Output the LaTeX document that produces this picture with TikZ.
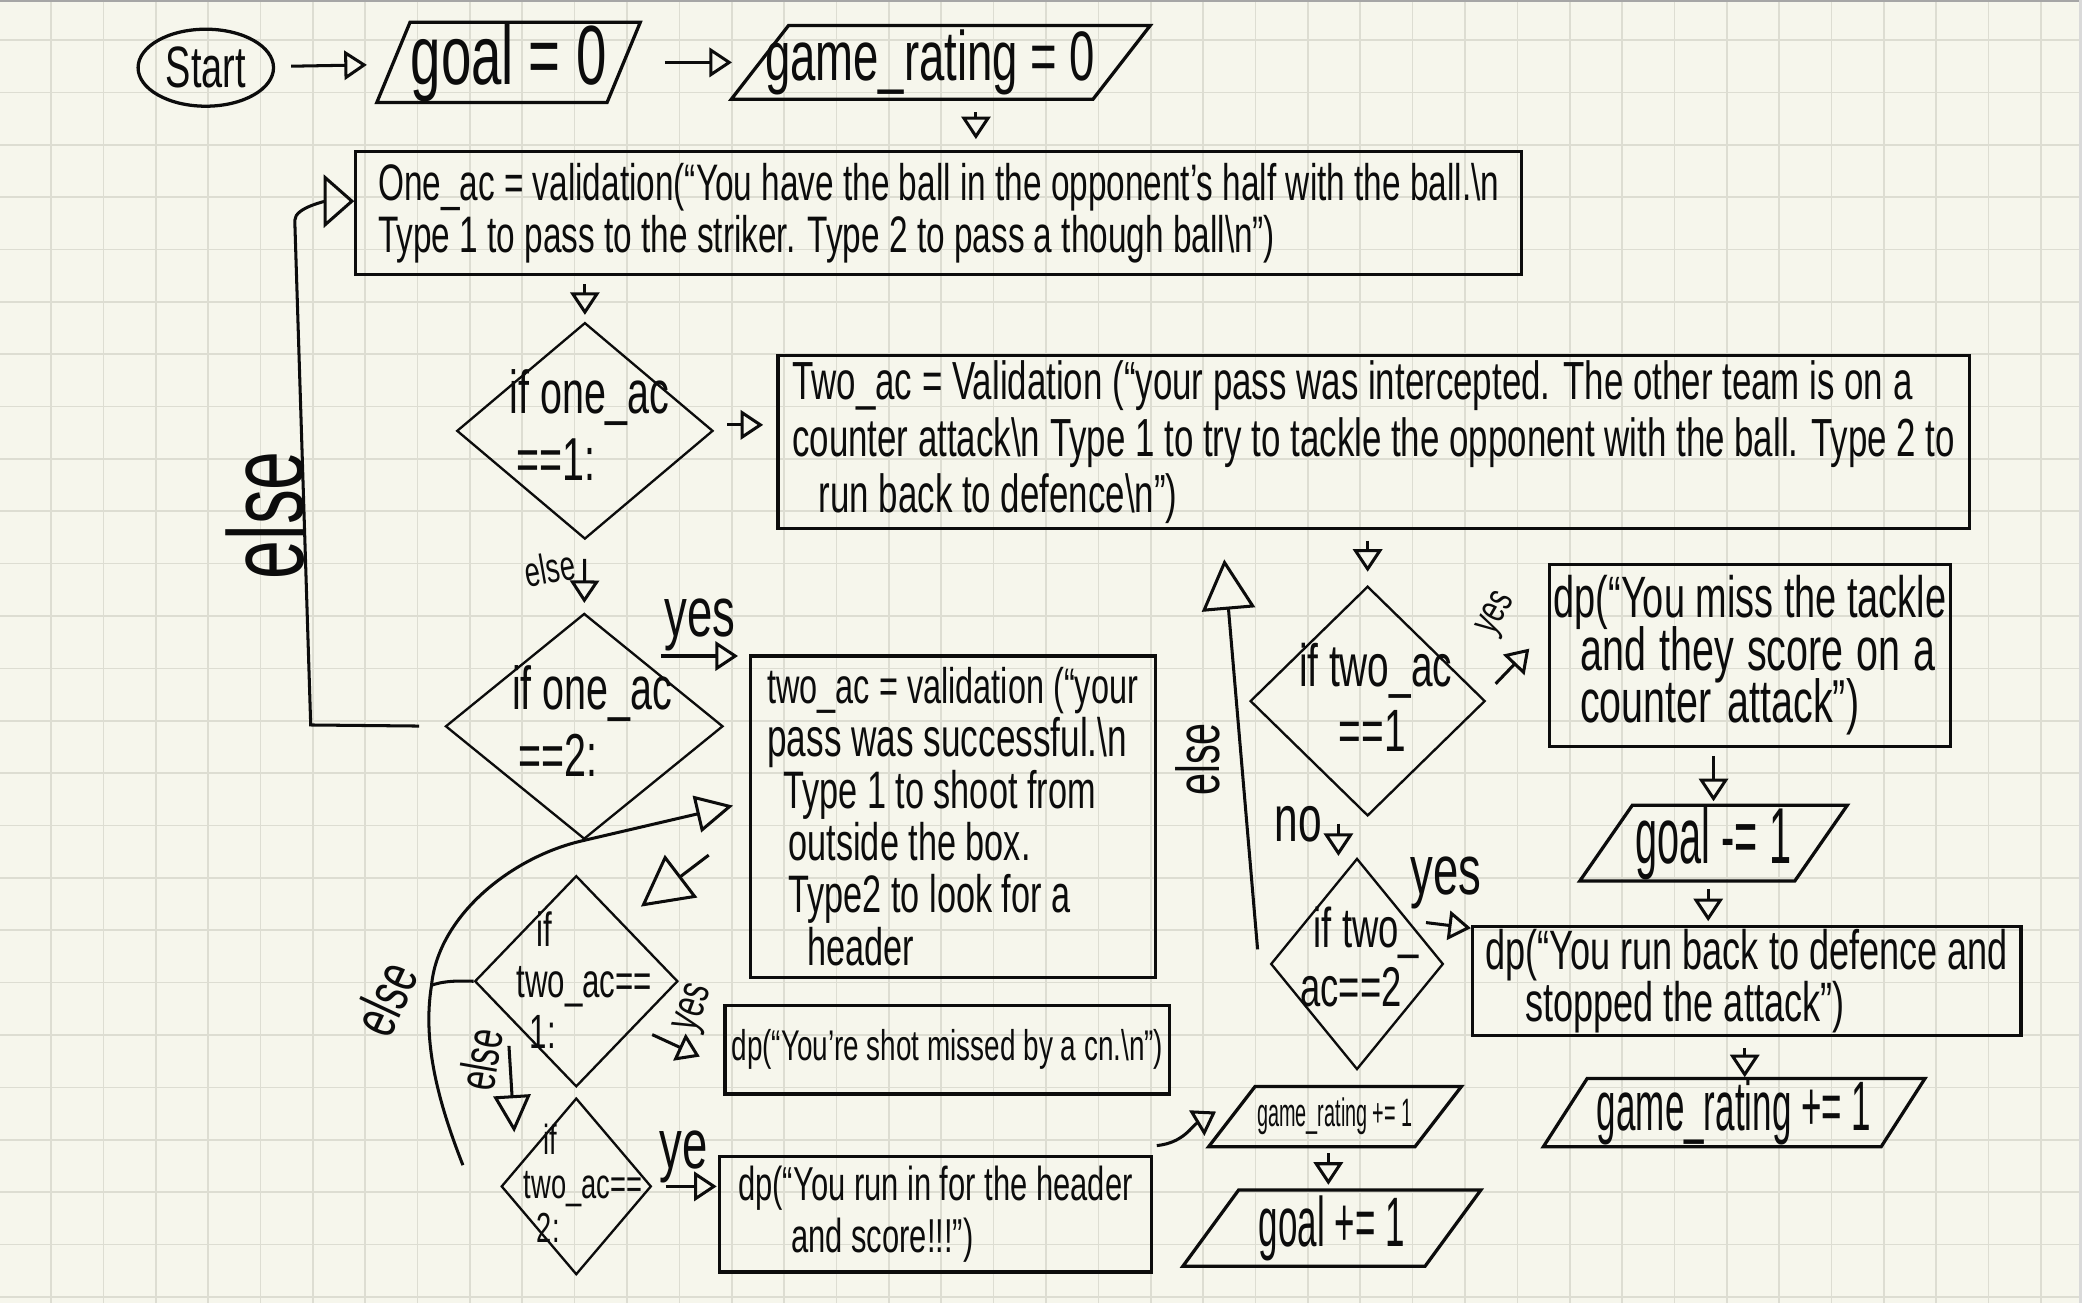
\documentclass[tikz,border=0pt]{standalone}
\usepackage{fontspec}
\setmainfont{Liberation Sans}[FakeStretch=0.65]
\newfontfamily\cond{Liberation Sans}[FakeStretch=0.5]
\usetikzlibrary{arrows.meta,shapes.geometric}
\definecolor{paper}{RGB}{246,246,236}
\definecolor{gridc}{RGB}{221,221,210}
\definecolor{ink}{RGB}{12,12,12}
\newcommand\fsz[2]{\fontsize{#1}{#2}\selectfont\lineskiplimit=-3pt\lineskip=0pt\relax}
\newcommand\paral[2]{\draw[ln] ([xshift=#2]#1.north west) -- ([xshift=#2]#1.north east) -- ([xshift=-#2]#1.south east) -- ([xshift=-#2]#1.south west) -- cycle;}
\begin{document}
\begin{tikzpicture}[x=0.1mm,y=-0.1mm,
  ln/.style={draw=ink,line width=0.7pt},
  box/.style={ln,rectangle,inner sep=0pt,align=left,text=ink},
  dia/.style={draw=ink,line width=0.5pt,diamond,inner sep=0pt},
  pa/.style={inner sep=0pt,align=center,text=ink},
  txt/.style={inner sep=0pt,align=left,text=ink},
  lab/.style={inner sep=0pt,text=ink},
  con/.style={draw=ink,line width=0.65pt},
  arr/.style={con,-{Triangle[open,length=1.7mm,width=2.2mm,line width=0.65pt]}},
  midarr/.style={con,-{Triangle[open,length=2.8mm,width=2.8mm,line width=0.65pt]}},
  bigarr/.style={con,-{Triangle[open,length=3.8mm,width=4mm,line width=0.65pt]}},
  loparr/.style={con,-{Triangle[open,length=2.3mm,width=4mm,line width=0.65pt]}},
]
\useasboundingbox (0,0) rectangle (1568,981);
\fill[paper] (0,0) rectangle (1568,981);
\foreach \i in {0,...,38} \draw[gridc,line width=0.35pt] ({38.4+39.44*\i},0) -- ({38.4+39.44*\i},981);
\foreach \j in {0,...,24} \draw[gridc,line width=0.35pt] (0,{30.1+39.44*\j}) -- (1568,{30.1+39.44*\j});
\draw[gray!70,line width=0.4pt] (0,0.6) -- (1568,0.6);
\fill[gray!30] (1566,0) rectangle (1568,981);

% ---- top row
\node[ln,ellipse,minimum width=10.2mm,minimum height=5.8mm,inner sep=0pt,text=ink,font=\fsz{12.5}{12.5}] (start) at (155,51) {Start};
\node[pa,minimum width=17.2mm,minimum height=4.8mm,font=\fsz{18}{18}] (g0) at (383,47) {goal = 0};
\paral{g0}{1.25mm}
\node[pa,minimum width=27.1mm,minimum height=5.4mm,font=\fsz{15}{15}] (gr0) at (708.5,47) {game\_rating = 0\hspace*{1.6mm}};
\paral{gr0}{2.15mm}

% ---- boxes
\node[box,minimum width=87.8mm,minimum height=9.3mm,font=\fsz{11}{11.3}] (one) at (707,160.5) {One\_ac = validation(“You have the ball in the opponent's half with the ball.\textbackslash n\\Type 1 to pass to the striker. Type 2 to pass a though ball\textbackslash n”)};
\node[box,minimum width=89.7mm,minimum height=13mm,font=\fsz{11.5}{12.2}] (two) at (1034.5,333) {Two\_ac = Validation (“your pass was intercepted. The other team is on a\\counter attack\textbackslash n Type 1 to try to tackle the opponent with the ball. Type 2 to\\\hspace*{2mm}run back to defence\textbackslash n”)};
\node[box,minimum width=30.5mm,minimum height=24.2mm,font=\fsz{11.3}{11.2}] (ok) at (717.5,615) {\fsz{10.7}{11.2}two\_ac = validation (“your\\\fsz{11.6}{11.2}pass was successful.\textbackslash n\\\hspace*{1.2mm}Type 1 to shoot from\\\hspace*{1.6mm}outside the box.\\\hspace*{1.6mm}Type2 to look for a\\\hspace*{3mm}header};
\node[box,minimum width=33.5mm,minimum height=6.7mm,font=\fsz{9.2}{10}] (shot) at (713.5,790.5) {dp(“You're shot missed by a cn.\textbackslash n”)};
\node[box,minimum width=32.5mm,minimum height=8.7mm,font=\fsz{10.2}{11}] (runin) at (704.5,914.5) {dp(“You run in for the header\\\hspace*{4mm}and score!!!”)};
\node[box,minimum width=30.2mm,minimum height=13.7mm,font=\fsz{13}{11.2}] (miss) at (1318,493.5) {\fsz{12.5}{11.2}dp(“You miss the tackle\\\hspace*{2mm}and\hspace{1mm}they\hspace{1mm}score\hspace{1mm}on\hspace{1mm}a\\\hspace*{2mm}counter\hspace{1.2mm}attack”)};
\node[box,minimum width=41.3mm,minimum height=8.2mm,font=\fsz{11.9}{11.2}] (back) at (1315.5,739) {dp(“You run back to defence and\\\hspace*{3mm}stopped the attack”)};

% ---- diamonds
\node[dia,minimum width=19.3mm,minimum height=16.3mm] (d1) at (440.5,324.5) {};
\node[txt,font=\fsz{13}{14.5}] (d1t) at (444,320) {if one\_ac\\\hspace*{0.5mm}==1:};
\node[dia,minimum width=20.9mm,minimum height=17mm] (d2) at (440,547) {};
\node[txt,font=\fsz{13}{14.5}] (d2t) at (446,543) {if one\_ac\\\hspace*{0.5mm}==2:};
\node[dia,minimum width=15.3mm,minimum height=15.9mm] (d3) at (434,739) {};
\node[txt,font=\fsz{10.3}{11}] (d3t) at (440,738) {\hspace*{1.5mm}if\\two\_ac==\\\hspace*{1mm}1:};
\node[dia,minimum width=11.3mm,minimum height=13.3mm] (d4) at (434,893.5) {};
\node[txt,font=\fsz{9}{9.4}] (d4t) at (439,891) {\hspace*{1.5mm}if\\two\_ac==\\\hspace*{1mm}2:};
\node[dia,minimum width=17.7mm,minimum height=17.3mm] (d5) at (1030,528) {};
\node[txt,font=\fsz{12.8}{14}] (d5t) at (1036,525) {if two\_ac\\\hspace*{3mm}==1};
\node[dia,minimum width=13mm,minimum height=15.9mm] (d6) at (1022,726) {};
\node[txt,font=\fsz{12}{12.6}] (d6t) at (1024,721) {\hspace*{1mm}if two\_\\ac==2};

% ---- parallelograms bottom
\node[pa,minimum width=16.05mm,minimum height=5.2mm,font=\cond\fsz{17}{17}] (gm1) at (1290.5,635) {goal -= 1};
\paral{gm1}{1.98mm}
\node[pa,minimum width=25.3mm,minimum height=5mm,font=\cond\fsz{15}{15}] (gbig) at (1306,838) {game\_rating += 1};
\paral{gbig}{1.65mm}
\node[pa,minimum width=15.4mm,minimum height=4.4mm,font=\cond\fsz{8.5}{8.5}] (grs) at (1005.4,841) {game\_rating += 1};
\paral{grs}{1.75mm}
\node[pa,minimum width=18.1mm,minimum height=5.6mm,font=\cond\fsz{15}{15}] (gp1) at (1003,925) {goal += 1};
\paral{gp1}{2.1mm}

% ---- connectors
\draw[arr,shorten <=1.2mm,shorten >=2mm] (start) -- (g0);
\draw[arr,shorten <=3.1mm,shorten >=2.1mm] (g0) -- (gr0);
\draw[arr,shorten <=1mm,shorten >=0.8mm] ([xshift=2.65mm]gr0.south) -- ([xshift=2.65mm]gr0.south |- one.north);
\draw[arr,shorten <=0.6mm,shorten >=0.5mm] (d1.north |- one.south) -- (d1.north);
\draw[arr,shorten <=1mm,shorten >=1mm] ([yshift=0.45mm]d1.east) -- ([yshift=0.45mm]d1.east -| two.west);
\draw[arr,shorten <=1.4mm,shorten >=0.7mm] (d1.south) -- (d2.north);
\node[lab,rotate=10,font=\fsz{9}{9}] (le1) at (414,428) {else};

\draw[arr,shorten >=0.8mm] ([xshift=0.5mm,yshift=1mm]d2.north east) -- ([yshift=1mm]d2.north east -| ok.west);
\node[lab,font=\fsz{15}{15}] (ly1) at (527,471) {yes};

% left else loop
\coordinate (L1) at (234,546);
\coordinate (L2) at (222,166);
\draw[loparr,shorten <=1.9mm] (d2.west) -- (L1) -- (L2) .. controls +(0,-10) and +(-20,0) .. ([yshift=0.9mm]one.west);
\node[lab,rotate=90,font=\fsz{23}{23}] (le2) at (200,388) {else};

% big curve back into ok
\coordinate (cJ) at (325,742);
\draw[midarr,shorten >=1.2mm] ([xshift=-2.8mm,yshift=1.6mm]d4.west) .. controls (330,830) and (318,785) .. (cJ) .. controls (330,690) and (385,645) .. (d2.south) -- ([yshift=1.1mm]ok.west);
\draw[con] (d3.west) .. controls +(-10,0) and +(12,-4) .. (cJ);
\node[lab,rotate=65,font=\fsz{13}{13}] (le5) at (290,752) {else};

\draw[bigarr] ([xshift=-3mm,yshift=-2.9mm]ok.west) -- ([xshift=1mm,yshift=1.6mm]d3.north east);
\draw[midarr] ([xshift=-1.2mm,yshift=-0.85mm]d3.south west) -- ([xshift=-1.8mm,yshift=0.7mm]d4.north west);
\node[lab,rotate=80,font=\fsz{11}{11}] (le3) at (362,798) {else};
\draw[arr,shorten >=0.3mm] ([xshift=1.85mm]d3.south east) -- ([xshift=-1.5mm,yshift=-0.65mm]shot.west);
\node[lab,rotate=70,font=\fsz{10}{10}] (ly3) at (524,760) {yes};
\draw[arr,shorten <=1mm,shorten >=0.1mm] (d4.east) -- (d4.east -| runin.west);
\node[lab,font=\fsz{15}{15}] (ly4) at (515,871) {ye};

\draw[arr,shorten >=0.8mm] ([xshift=0.3mm,yshift=0.7mm]runin.north east) .. controls +(20,-2) and +(-25,15) .. ([xshift=-0.5mm,yshift=0.8mm]grs.west);
\draw[arr,shorten <=0.5mm,shorten >=0.4mm] ([xshift=-0.5mm]grs.south) -- ([xshift=-0.5mm]grs.south |- gp1.north);

% right part
\draw[bigarr] ([xshift=-0.9mm,yshift=1.1mm]d6.west) -- ([xshift=-11.25mm,yshift=-2.2mm]two.south);
\node[lab,rotate=90,font=\fsz{13}{13}] (le4) at (902,572) {else};
\draw[arr,shorten <=0.8mm,shorten >=1mm] (d5.north |- two.south) -- (d5.north);
\draw[arr] ([xshift=0.7mm,yshift=1.3mm]d5.east) -- ([xshift=-1.4mm,yshift=0.5mm]miss.west);
\node[lab,rotate=60,font=\fsz{9}{9}] (ly5) at (1128,463) {yes};
\draw[arr,shorten <=0.5mm,shorten >=0.1mm] ([xshift=-2.2mm]d5.south) -- ([xshift=-2.2mm]d5.south |- d6.north);
\node[lab,font=\fsz{14}{14}] (ln5) at (978,621) {no};
\draw[arr] ([xshift=1.9mm,yshift=-0.9mm]d6.north east) -- ([yshift=4mm]back.west);
\node[lab,font=\fsz{15}{15}] (ly6) at (1089,665) {yes};
\draw[arr,shorten <=0.6mm,shorten >=0.3mm] (gm1.north |- miss.south) -- (gm1.north);
\draw[arr,shorten <=0.6mm,shorten >=0.3mm] ([xshift=-0.4mm]gm1.south) -- ([xshift=-0.4mm]gm1.south |- back.north);
\draw[arr,shorten <=0.8mm,shorten >=0.1mm] ([xshift=-0.15mm]back.south) -- ([xshift=-0.15mm]back.south |- gbig.north);
\end{tikzpicture}
\end{document}
